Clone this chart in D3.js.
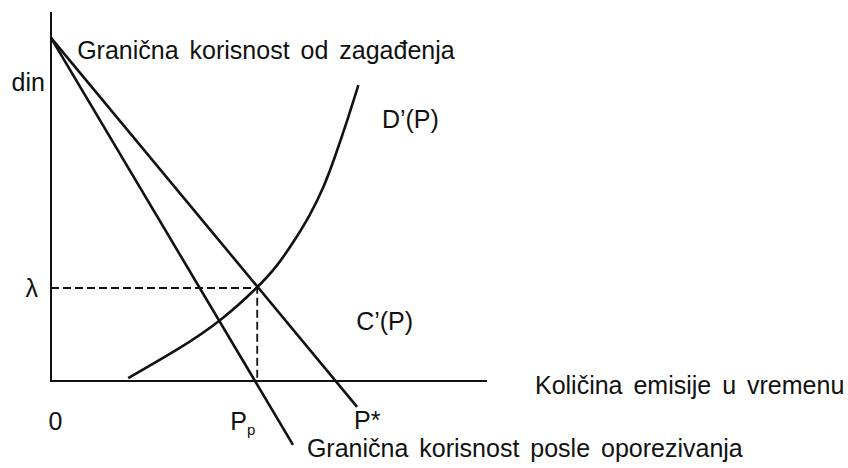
<!DOCTYPE html>
<html>
<head>
<meta charset="utf-8">
<script src="https://cdn.jsdelivr.net/npm/d3@7"></script>
<style>
    body { margin: 0; background: #fff; }
    text { font-family: "Liberation Sans", Arial, sans-serif; fill: #111; }
</style>
</head>
<body>
<svg id="paper"></svg>
<script>
// chart values, in abstract units (0..100 on both axes)
let xDomain = [0, 100];
let yDomain = [0, 100];

// marginal benefit of pollution, before and after the tax
let benefitLine = [[0, 93], [70.2, -7.0]];
let taxedLine = [[0, 93], [55.5, -17.3]];

// marginal damage D'(P)
let damageCurve = [
    [17.7, 0.8], [29.6, 8.8], [38.8, 16.1], [47.3, 25.2], [51.8, 31.0],
    [55.6, 37.6], [59.4, 44.9], [62.5, 52.3], [65.1, 60.6], [67.8, 70.0], [70.5, 80.2]
];

// equilibrium point (P_p, lambda)
let equilibrium = [47.3, 25.2];

let labels = [
    {text: "Granična korisnost od zagađenja", x: 6.0, y: 87.3, anchor: "start"},
    {text: "din", x: -1.4, y: 78.6, anchor: "end"},
    {text: "D’(P)", x: 75.9, y: 68.6, anchor: "start"},
    {text: "λ", x: -3.0, y: 22.8, anchor: "end"},
    {text: "C’(P)", x: 70.0, y: 13.8, anchor: "start"},
    {text: "0", x: 1.0, y: -13.3, anchor: "middle"},
    {text: "P*", x: 69.5, y: -13.0, anchor: "start"},
    {text: "Količina emisije u vremenu", x: 111.0, y: -3.5, anchor: "start"},
    {text: "Granična korisnost posle oporezivanja", x: 58.7, y: -20.6, anchor: "start"}
];

let width = 848, height = 468;
let margin = {top: 12, right: 361, bottom: 87, left: 51};

let svg = d3.select("#paper")
    .attr("width", width)
    .attr("height", height);

let x = d3.scaleLinear().domain(xDomain).range([margin.left, width - margin.right]);
let y = d3.scaleLinear().domain(yDomain).range([height - margin.bottom, margin.top]);

let line = d3.line()
    .x(d => x(d[0]))
    .y(d => y(d[1]));

// axes
svg.append("path")
    .attr("d", line([[xDomain[0], yDomain[1]], [xDomain[0], yDomain[0]], [xDomain[1], yDomain[0]]]))
    .attr("fill", "none")
    .attr("stroke", "#111")
    .attr("stroke-width", 2);

// dashed guides to the equilibrium
svg.append("path")
    .attr("d", line([[xDomain[0], equilibrium[1]], equilibrium, [equilibrium[0], yDomain[0]]]))
    .attr("fill", "none")
    .attr("stroke", "#111")
    .attr("stroke-width", 1.8)
    .attr("stroke-dasharray", "8,4");

// straight lines
svg.selectAll(".mb")
    .data([benefitLine, taxedLine])
    .enter()
    .append("path")
    .classed("mb", true)
    .attr("d", line)
    .attr("fill", "none")
    .attr("stroke", "#111")
    .attr("stroke-width", 2.6);

// damage curve
svg.append("path")
    .attr("d", d3.line()
        .x(d => x(d[0]))
        .y(d => y(d[1]))
        .curve(d3.curveBasis)(damageCurve))
    .attr("fill", "none")
    .attr("stroke", "#111")
    .attr("stroke-width", 2.6);

svg.selectAll(".label")
    .data(labels)
    .enter()
    .append("text")
    .classed("label", true)
    .attr("x", d => x(d.x))
    .attr("y", d => y(d.y))
    .attr("text-anchor", d => d.anchor)
    .style("font-size", "25px")
    .style("word-spacing", "4px")
    .text(d => d.text);

// P with subscript p
let pp = svg.append("text")
    .attr("x", x(41.1))
    .attr("y", y(-13.3))
    .style("font-size", "25px");
pp.append("tspan").text("P");
pp.append("tspan")
    .attr("dy", 5)
    .style("font-size", "15px")
    .text("p");
</script>
</body>
</html>
